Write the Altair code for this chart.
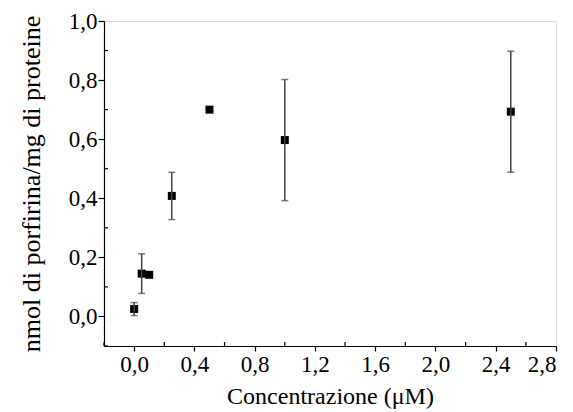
import altair as alt
import pandas as pd

conc = [0.0, 0.05, 0.1, 0.25, 0.5, 1.0, 2.5]
value = [0.025, 0.145, 0.141, 0.408, 0.700, 0.597, 0.693]
err = [0.022, 0.067, 0.0, 0.080, 0.0, 0.205, 0.205]

x_major = [0.0, 0.4, 0.8, 1.2, 1.6, 2.0, 2.4, 2.8]
y_major = [0.0, 0.2, 0.4, 0.6, 0.8, 1.0]
x_minor = [-0.2, 0.2, 0.6, 1.0, 1.4, 1.8, 2.2, 2.6]
y_minor = [-0.1, 0.1, 0.3, 0.5, 0.7, 0.9]

W, H = 452, 325
FONT = "Liberation Serif"

df = pd.DataFrame({"c": conc, "v": value, "e": err})
df["lo"] = df["v"] - df["e"]
df["hi"] = df["v"] + df["e"]
df_err = df[df["e"] > 0]

lab = "replace(format(datum.value, '.1f'), '.', ',')"

xs = alt.Scale(domain=[-0.2, 2.8], nice=False, zero=False)
ys = alt.Scale(domain=[-0.1, 1.0], nice=False, zero=False)

xenc = alt.X("c:Q", scale=xs, axis=alt.Axis(
    values=x_major, labelExpr=lab, title="Concentrazione (μM)",
    grid=False, tickSize=5, tickColor="black", domainColor="black",
    labelFont=FONT, labelFontSize=23, labelColor="black", labelPadding=2,
    titleFont=FONT, titleFontSize=24, titleFontWeight="normal", titleColor="black",
    titlePadding=8, domainWidth=1.2, tickWidth=1.2))
yenc = alt.Y("v:Q", scale=ys, axis=alt.Axis(
    values=y_major, labelExpr=lab, title="nmol di porfirina/mg di proteine",
    grid=False, tickSize=6, tickColor="black", domainColor="black",
    labelFont=FONT, labelFontSize=23, labelColor="black", labelPadding=1,
    titleFont=FONT, titleFontSize=26, titleFontWeight="normal", titleColor="black",
    titlePadding=24, domainWidth=1.2, tickWidth=1.2))

base = alt.Chart(df)

bars = alt.Chart(df_err).mark_rule(color="#444444", strokeWidth=1.5).encode(
    x=alt.X("c:Q", scale=xs), y=alt.Y("lo:Q", scale=ys), y2="hi:Q")
cap_lo = alt.Chart(df_err).mark_tick(color="#444444", thickness=1.5, size=7, orient="horizontal").encode(
    x=alt.X("c:Q", scale=xs), y=alt.Y("lo:Q", scale=ys))
cap_hi = alt.Chart(df_err).mark_tick(color="#444444", thickness=1.5, size=7, orient="horizontal").encode(
    x=alt.X("c:Q", scale=xs), y=alt.Y("hi:Q", scale=ys))

pts = base.mark_square(size=64, color="black", opacity=1).encode(x=xenc, y=yenc)

ymin = alt.Chart(pd.DataFrame({"m": y_minor})).mark_rule(color="black", strokeWidth=1.2).encode(
    y=alt.Y("m:Q", scale=ys), x=alt.value(0), x2=alt.value(4))
xmin = alt.Chart(pd.DataFrame({"m": x_minor})).mark_rule(color="black", strokeWidth=1.2).encode(
    x=alt.X("m:Q", scale=xs), y=alt.value(H), y2=alt.value(H - 4))

chart = alt.layer(pts, bars, cap_lo, cap_hi, ymin, xmin).properties(
    width=W, height=H,
    autosize=alt.AutoSizeParams(type="none"),
    padding={"left": 96, "top": 13, "right": 8, "bottom": 66},
).configure_view(stroke="black", strokeWidth=1.2).configure(background="white")

chart.save("out.html", embed_options={"renderer": "svg", "actions": False})
